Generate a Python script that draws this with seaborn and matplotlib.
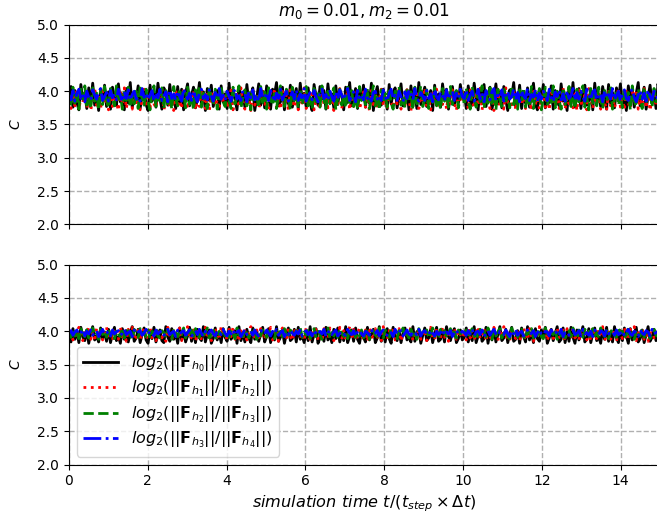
import numpy as np
import pandas as pd
import matplotlib
matplotlib.use("Agg")
import matplotlib.pyplot as plt
import seaborn as sns

# Convergence-rate estimates C for two parameter settings (upper and lower panel)
upper_h0h1 = [3.92, 4.07, 3.76, 4.01, 3.83, 3.72, 4.10, 3.88, 3.97, 3.74, 4.05, 3.81, 4.12, 3.79, 3.94, 3.71, 4.03, 3.86, 4.09, 3.77,
              3.99, 3.73, 4.06, 3.90, 3.78, 4.11, 3.84, 3.95, 3.72, 4.04, 3.82, 4.13, 3.75, 3.98, 3.87, 4.08, 3.74, 3.93, 4.02, 3.80,
              3.71, 4.09, 3.85, 4.00, 3.76, 4.12, 3.89, 3.73, 4.05, 3.96, 3.79, 4.10, 3.83, 3.91, 3.74, 4.07, 3.81, 4.03, 3.72, 3.97,
              4.11, 3.78, 3.94, 4.06, 3.75, 3.88, 4.13, 3.82, 3.99, 3.71, 4.04, 3.86, 4.09, 3.77, 3.92, 4.01, 3.73, 4.08, 3.84, 3.96,
              3.74, 4.12, 3.80, 4.02, 3.89, 3.72, 4.07, 3.85, 3.98, 3.76, 4.10, 3.83, 3.93, 4.05, 3.71, 3.90, 4.11, 3.79, 4.00, 3.75,
              4.08, 3.87, 3.73, 4.03, 3.95, 4.13, 3.78, 3.84, 4.06, 3.72, 3.99, 3.81, 4.09, 3.76, 3.91, 4.04, 3.74, 4.12, 3.86, 3.97,
              3.77, 4.05, 3.82, 3.71, 4.10, 3.92, 3.79, 4.07, 3.88, 4.01, 3.73, 4.11, 3.85, 3.96, 3.75, 4.08, 3.80, 4.02, 3.94, 3.72,
              4.06, 3.83, 4.13, 3.78, 3.90, 4.04, 3.74, 3.98, 3.87, 4.09, 3.76, 4.00, 3.82, 4.12, 3.71, 3.95, 4.07, 3.84, 3.79, 4.03,
              3.89, 3.73, 4.10, 3.81, 3.97, 4.05, 3.75, 3.92, 4.11, 3.78, 3.86, 4.02, 3.72, 4.08, 3.85, 3.99, 3.74, 4.13, 3.80, 3.94,
              4.06, 3.77, 3.88, 4.01, 3.71, 4.09, 3.83, 3.96, 3.76, 4.11, 3.87, 4.03, 3.73, 3.93, 4.07, 3.79, 4.00, 3.82, 4.10, 3.91,
              3.98, 3.74, 4.08, 3.85, 3.79, 4.12, 3.90, 3.72, 4.04, 3.83, 4.10, 3.77, 3.95, 4.06, 3.73, 3.88, 4.11, 3.81, 3.99, 3.75,
              4.07, 3.86, 3.71, 4.02, 3.92, 4.13, 3.78, 3.84, 4.09, 3.74, 3.97, 3.82, 4.05, 3.76, 3.93, 4.12, 3.80, 3.72, 4.03, 3.89,
              4.10, 3.75, 3.96, 3.83, 4.08, 3.73, 4.01, 3.87, 3.78, 4.11, 3.85, 3.94, 3.71, 4.06, 3.81, 4.13, 3.76, 3.91, 4.04, 3.74,
              3.99, 4.09, 3.79, 3.86, 4.02, 3.72, 4.12, 3.84, 3.95, 3.77, 4.07, 3.90, 3.73, 4.10, 3.82, 3.98, 3.75, 4.05, 3.88, 4.11,
              3.80, 3.93, 3.71, 4.08, 3.86, 4.03, 3.76, 3.97, 4.13, 3.78, 3.89, 4.06, 3.73, 3.92, 4.09, 3.81, 4.00, 3.74, 4.11, 3.87]
upper_h1h2 = [3.86, 3.74, 3.99, 3.78, 4.03, 3.72, 3.91, 3.83, 4.01, 3.75, 3.94, 3.71, 3.88, 4.04, 3.79, 3.96, 3.73, 4.00, 3.82, 3.89,
              3.72, 4.02, 3.77, 3.93, 3.84, 3.71, 3.98, 3.80, 4.05, 3.74, 3.90, 3.85, 3.73, 4.01, 3.78, 3.95, 3.72, 3.87, 4.03, 3.76,
              3.92, 3.73, 4.00, 3.81, 3.75, 3.97, 3.88, 4.04, 3.72, 3.84, 3.99, 3.76, 3.93, 3.71, 4.02, 3.79, 3.86, 3.74, 4.05, 3.83,
              3.73, 3.95, 3.80, 4.01, 3.72, 3.89, 3.77, 4.03, 3.85, 3.74, 3.98, 3.71, 3.92, 4.00, 3.78, 3.87, 3.73, 4.04, 3.82, 3.96,
              3.75, 3.90, 4.02, 3.72, 3.84, 3.99, 3.76, 4.05, 3.81, 3.73, 3.94, 3.88, 3.71, 4.01, 3.79, 3.97, 3.74, 3.86, 4.03, 3.77,
              3.91, 3.72, 3.98, 3.83, 4.04, 3.75, 3.87, 3.73, 4.00, 3.80, 3.95, 3.71, 4.02, 3.85, 3.76, 3.93, 3.72, 3.99, 3.82, 4.05,
              3.74, 3.89, 3.78, 4.01, 3.72, 3.96, 3.84, 3.73, 4.03, 3.79, 3.92, 3.75, 4.00, 3.86, 3.71, 3.97, 3.81, 4.04, 3.74, 3.90,
              3.83, 4.02, 3.72, 3.94, 3.77, 3.88, 4.05, 3.73, 3.85, 3.99, 3.76, 3.91, 3.71, 4.01, 3.80, 3.96, 3.74, 3.87, 4.03, 3.78,
              3.93, 3.72, 4.00, 3.84, 3.75, 3.98, 3.81, 4.04, 3.73, 3.89, 3.77, 4.02, 3.86, 3.71, 3.95, 3.79, 4.01, 3.74, 3.92, 3.82,
              4.05, 3.76, 3.88, 3.72, 3.97, 3.85, 4.03, 3.74, 3.90, 3.80, 4.00, 3.73, 3.94, 3.78, 4.02, 3.83, 3.71, 3.96, 3.87, 3.99,
              3.81, 3.97, 3.73, 4.02, 3.86, 3.75, 3.99, 3.78, 4.04, 3.72, 3.90, 3.84, 4.01, 3.74, 3.94, 3.71, 3.88, 4.03, 3.77, 3.96,
              3.73, 4.05, 3.83, 3.92, 3.75, 4.00, 3.72, 3.87, 3.98, 3.79, 4.02, 3.74, 3.91, 3.85, 3.71, 4.04, 3.80, 3.95, 3.73, 3.89,
              4.01, 3.76, 3.93, 3.72, 4.03, 3.84, 3.78, 3.99, 3.74, 3.86, 4.05, 3.73, 3.90, 3.81, 4.00, 3.75, 3.96, 3.71, 4.02, 3.83,
              3.77, 3.94, 3.72, 4.04, 3.88, 3.74, 3.98, 3.80, 4.01, 3.73, 3.92, 3.85, 3.71, 4.03, 3.78, 3.97, 3.75, 3.87, 4.05, 3.76,
              3.93, 3.72, 4.00, 3.82, 3.74, 3.99, 3.86, 4.02, 3.73, 3.89, 3.79, 4.04, 3.75, 3.95, 3.71, 3.91, 4.01, 3.77, 3.84, 3.98]
upper_h2h3 = [3.94, 3.77, 4.06, 3.82, 3.99, 3.73, 4.03, 3.88, 4.08, 3.79, 3.91, 3.74, 4.05, 3.85, 3.97, 3.72, 4.01, 3.80, 4.07, 3.87,
              3.75, 4.04, 3.90, 3.78, 4.08, 3.83, 3.96, 3.73, 4.02, 3.86, 4.06, 3.76, 3.93, 3.81, 4.00, 3.74, 4.07, 3.89, 3.79, 4.03,
              3.84, 3.72, 3.98, 4.08, 3.77, 3.92, 3.85, 4.05, 3.74, 4.01, 3.81, 3.95, 3.73, 4.07, 3.88, 3.78, 4.04, 3.83, 3.99, 3.75,
              4.06, 3.80, 3.93, 3.72, 4.02, 3.87, 4.08, 3.76, 3.97, 3.82, 3.74, 4.05, 3.90, 3.79, 4.03, 3.73, 3.96, 4.07, 3.84, 3.77,
              4.00, 3.86, 3.74, 4.06, 3.81, 3.94, 4.08, 3.75, 3.89, 4.02, 3.78, 3.98, 3.72, 4.04, 3.85, 3.92, 3.76, 4.07, 3.83, 3.99,
              3.73, 4.05, 3.88, 3.79, 4.01, 3.74, 3.95, 4.08, 3.82, 3.77, 4.03, 3.90, 3.72, 4.06, 3.86, 3.97, 3.75, 4.02, 3.80, 3.93,
              4.07, 3.78, 3.91, 3.73, 4.04, 3.84, 3.99, 3.76, 4.08, 3.87, 3.74, 4.00, 3.81, 3.96, 4.05, 3.72, 3.89, 4.03, 3.79, 3.94,
              3.75, 4.06, 3.83, 4.01, 3.77, 3.92, 3.73, 4.07, 3.86, 3.98, 3.80, 4.04, 3.74, 3.90, 4.08, 3.78, 3.95, 3.72, 4.02, 3.85,
              3.97, 3.76, 4.05, 3.82, 3.73, 4.00, 3.88, 4.07, 3.79, 3.93, 3.75, 4.03, 3.84, 3.99, 3.72, 4.06, 3.81, 3.91, 4.08, 3.77,
              3.87, 4.02, 3.74, 3.96, 3.83, 4.05, 3.78, 3.90, 3.73, 4.04, 3.85, 3.98, 3.76, 4.07, 3.80, 3.94, 4.01, 3.75, 3.92, 4.03,
              3.79, 4.04, 3.86, 3.73, 4.07, 3.91, 3.76, 4.01, 3.84, 4.08, 3.74, 3.95, 3.82, 4.05, 3.78, 3.99, 3.72, 4.03, 3.88, 3.77,
              4.06, 3.83, 3.94, 3.75, 4.08, 3.80, 3.97, 3.73, 4.02, 3.87, 4.05, 3.76, 3.92, 3.81, 4.07, 3.74, 3.98, 3.85, 4.04, 3.72,
              3.90, 4.06, 3.78, 3.96, 3.83, 4.08, 3.75, 4.00, 3.86, 3.73, 4.05, 3.80, 3.93, 4.07, 3.77, 3.89, 3.74, 4.03, 3.84, 3.99,
              4.08, 3.76, 3.91, 3.72, 4.04, 3.82, 3.97, 3.78, 4.06, 3.87, 3.74, 4.01, 3.85, 3.95, 4.07, 3.73, 3.88, 4.02, 3.79, 3.94,
              3.75, 4.05, 3.83, 3.98, 3.72, 4.08, 3.86, 3.77, 4.03, 3.90, 3.74, 4.06, 3.81, 3.96, 4.00, 3.76, 4.04, 3.84, 3.92, 3.78]
upper_h3h4 = [3.93, 3.87, 4.01, 3.85, 3.97, 4.03, 3.89, 3.95, 3.84, 4.00, 3.91, 3.86, 4.02, 3.94, 3.88, 3.99, 4.04, 3.86, 3.92, 3.98,
              3.85, 4.01, 3.90, 3.96, 3.87, 4.03, 3.93, 3.84, 3.99, 3.89, 4.02, 3.86, 3.95, 4.00, 3.88, 3.92, 3.85, 4.04, 3.91, 3.97,
              3.87, 3.94, 4.01, 3.85, 3.98, 3.90, 4.03, 3.86, 3.93, 3.99, 3.84, 4.02, 3.89, 3.96, 3.87, 4.00, 3.92, 3.85, 4.04, 3.94,
              3.88, 3.97, 3.86, 4.01, 3.91, 3.84, 3.99, 4.03, 3.89, 3.95, 3.87, 4.02, 3.93, 3.85, 3.98, 3.90, 4.04, 3.88, 3.94, 3.86,
              4.00, 3.92, 3.85, 3.97, 4.03, 3.88, 3.93, 3.86, 4.01, 3.96, 3.84, 3.99, 3.90, 4.02, 3.87, 3.95, 3.85, 4.04, 3.91, 3.89,
              3.98, 3.86, 4.01, 3.93, 3.84, 3.97, 3.89, 4.03, 3.87, 3.94, 4.00, 3.85, 3.92, 3.99, 3.88, 4.02, 3.86, 3.96, 3.90, 4.04,
              3.85, 3.93, 3.98, 3.87, 4.01, 3.91, 3.84, 3.97, 4.03, 3.89, 3.95, 3.86, 4.00, 3.92, 3.85, 3.99, 3.88, 4.02, 3.94, 3.87,
              3.96, 4.04, 3.86, 3.92, 3.99, 3.84, 4.01, 3.90, 3.95, 3.87, 4.03, 3.89, 3.93, 3.85, 3.98, 4.00, 3.88, 3.94, 3.86, 4.02,
              3.91, 3.85, 3.97, 4.03, 3.88, 3.94, 3.86, 4.00, 3.92, 3.84, 3.99, 3.89, 4.02, 3.95, 3.87, 4.04, 3.90, 3.85, 3.98, 3.93,
              3.86, 4.01, 3.89, 3.96, 3.84, 4.03, 3.91, 3.87, 3.99, 3.93, 3.85, 4.02, 3.88, 3.95, 4.00, 3.86, 3.97, 3.90, 4.03, 3.92,
              3.89, 4.02, 3.86, 3.95, 4.00, 3.85, 3.93, 4.03, 3.88, 3.97, 3.84, 4.01, 3.91, 3.87, 3.99, 4.04, 3.86, 3.94, 3.90, 4.02,
              3.85, 3.96, 4.00, 3.88, 3.92, 4.03, 3.87, 3.98, 3.84, 4.01, 3.93, 3.89, 4.04, 3.86, 3.95, 3.91, 4.02, 3.85, 3.97, 3.88,
              4.00, 3.94, 3.86, 4.03, 3.90, 3.84, 3.99, 3.92, 4.02, 3.87, 3.96, 3.85, 4.01, 3.89, 3.93, 4.04, 3.86, 3.98, 3.88, 4.00,
              3.91, 3.85, 4.03, 3.94, 3.87, 3.99, 4.02, 3.86, 3.92, 3.97, 3.84, 4.01, 3.90, 3.95, 3.88, 4.04, 3.87, 3.93, 4.00, 3.85,
              3.96, 4.02, 3.89, 3.86, 3.98, 4.03, 3.91, 3.84, 3.94, 4.01, 3.88, 3.97, 3.85, 4.02, 3.92, 3.87, 4.00, 3.95, 3.86, 3.99]

lower_h0h1 = [3.95, 3.84, 4.04, 3.88, 4.00, 3.83, 4.06, 3.91, 3.86, 4.02, 3.82, 3.97, 4.07, 3.87, 3.93, 3.84, 4.05, 3.89, 3.99, 3.85,
              4.03, 3.83, 3.96, 4.06, 3.86, 3.92, 3.82, 4.04, 3.88, 4.01, 3.84, 3.98, 4.07, 3.85, 3.90, 4.03, 3.83, 3.95, 4.05, 3.87,
              3.82, 4.00, 3.89, 4.06, 3.84, 3.94, 4.02, 3.86, 3.83, 4.07, 3.91, 3.85, 4.04, 3.88, 3.97, 3.82, 4.05, 3.87, 4.01, 3.84,
              3.93, 4.06, 3.85, 3.99, 3.83, 4.03, 3.90, 3.86, 4.07, 3.84, 3.96, 4.02, 3.82, 3.89, 4.05, 3.87, 3.98, 3.83, 4.04, 3.91,
              3.85, 4.06, 3.88, 3.94, 4.01, 3.82, 4.07, 3.86, 3.97, 3.84, 4.03, 3.90, 3.83, 4.05, 3.88, 4.00, 3.85, 3.95, 4.06, 3.84,
              3.92, 4.04, 3.83, 3.98, 3.87, 4.07, 3.85, 3.91, 4.02, 3.82, 3.96, 4.05, 3.86, 3.89, 4.03, 3.84, 4.06, 3.88, 3.93, 3.83,
              4.01, 3.86, 4.07, 3.84, 3.95, 4.04, 3.82, 3.90, 3.99, 3.85, 4.06, 3.87, 3.94, 3.83, 4.03, 3.89, 4.05, 3.84, 3.97, 3.86,
              4.07, 3.83, 3.92, 4.02, 3.85, 4.05, 3.88, 3.82, 4.00, 3.91, 3.84, 4.06, 3.87, 3.96, 4.03, 3.83, 3.90, 4.07, 3.85, 3.98,
              3.84, 4.04, 3.89, 3.82, 4.06, 3.93, 3.86, 4.01, 3.83, 3.97, 4.05, 3.87, 3.91, 3.84, 4.07, 3.85, 3.99, 4.02, 3.82, 3.94,
              4.05, 3.86, 3.90, 4.03, 3.83, 3.96, 4.06, 3.85, 3.88, 4.01, 3.84, 4.07, 3.92, 3.86, 3.98, 4.04, 3.83, 3.89, 4.02, 3.87,
              3.91, 4.05, 3.84, 3.97, 3.86, 4.07, 3.83, 3.93, 4.02, 3.85, 3.89, 4.06, 3.82, 3.99, 3.87, 4.04, 3.84, 3.95, 4.07, 3.86,
              3.90, 4.03, 3.83, 3.96, 4.06, 3.85, 3.88, 4.01, 3.82, 4.05, 3.92, 3.84, 4.07, 3.87, 3.98, 3.83, 4.04, 3.89, 3.85, 4.02,
              3.94, 4.06, 3.82, 3.90, 4.03, 3.86, 3.97, 4.07, 3.84, 3.88, 4.05, 3.83, 3.99, 3.85, 4.06, 3.91, 3.82, 4.02, 3.87, 3.95,
              4.07, 3.84, 3.89, 4.04, 3.83, 3.96, 4.05, 3.86, 3.92, 3.82, 4.03, 3.88, 4.06, 3.85, 3.98, 3.84, 4.07, 3.90, 3.83, 4.01,
              3.86, 4.05, 3.93, 3.82, 4.04, 3.87, 3.97, 4.06, 3.84, 3.89, 4.02, 3.83, 3.95, 4.07, 3.85, 3.91, 4.03, 3.86, 3.99, 3.84]
lower_h1h2 = [3.97, 4.04, 3.87, 4.01, 3.89, 4.06, 3.92, 3.86, 4.03, 3.95, 4.07, 3.88, 3.99, 3.85, 4.05, 3.91, 4.02, 3.87, 3.96, 4.06,
              3.89, 4.00, 3.86, 4.04, 3.93, 3.88, 4.07, 3.90, 3.98, 3.85, 4.03, 3.94, 4.06, 3.87, 3.91, 4.02, 3.86, 3.97, 4.05, 3.89,
              3.95, 4.07, 3.88, 4.01, 3.86, 3.93, 4.04, 3.90, 3.99, 3.85, 4.06, 3.92, 3.87, 4.03, 3.96, 3.89, 4.05, 3.86, 4.00, 3.94,
              4.07, 3.88, 3.91, 4.02, 3.85, 3.98, 4.05, 3.87, 3.94, 4.06, 3.89, 4.01, 3.86, 3.96, 4.04, 3.90, 3.87, 4.07, 3.93, 3.99,
              3.86, 4.03, 3.92, 4.06, 3.88, 3.95, 3.85, 4.05, 3.90, 4.01, 3.87, 3.97, 4.07, 3.89, 3.94, 4.02, 3.86, 4.04, 3.91, 3.88,
              4.00, 3.96, 4.06, 3.87, 3.93, 4.03, 3.85, 3.99, 4.05, 3.90, 3.88, 4.07, 3.92, 3.86, 4.01, 3.95, 4.04, 3.89, 3.97, 3.86,
              4.06, 3.91, 3.88, 4.02, 3.94, 4.07, 3.87, 3.98, 3.85, 4.04, 3.92, 3.89, 4.05, 3.96, 3.86, 4.00, 3.93, 4.06, 3.88, 4.01,
              3.87, 3.95, 4.07, 3.90, 4.03, 3.86, 3.97, 4.05, 3.89, 3.92, 4.02, 3.85, 4.06, 3.94, 3.88, 4.04, 3.91, 3.99, 3.86, 4.07,
              3.93, 3.88, 4.01, 3.96, 4.06, 3.87, 3.90, 4.04, 3.85, 3.98, 4.03, 3.89, 3.95, 4.07, 3.86, 4.00, 3.92, 4.05, 3.88, 3.97,
              4.02, 3.86, 3.94, 4.06, 3.90, 3.87, 4.04, 3.96, 3.89, 4.07, 3.91, 3.99, 3.85, 4.03, 3.93, 4.05, 3.88, 4.01, 3.95, 3.90,
              3.96, 3.87, 4.05, 3.90, 4.02, 3.86, 3.98, 4.07, 3.89, 3.93, 4.04, 3.85, 4.01, 3.92, 3.88, 4.06, 3.95, 3.86, 4.03, 3.91,
              4.07, 3.88, 3.97, 3.85, 4.05, 3.94, 3.89, 4.02, 3.86, 3.99, 4.06, 3.90, 3.87, 4.04, 3.93, 3.85, 4.01, 3.96, 4.07, 3.88,
              3.92, 4.03, 3.86, 3.98, 4.05, 3.89, 3.94, 4.06, 3.87, 3.91, 4.02, 3.85, 4.04, 3.95, 3.88, 4.07, 3.90, 3.97, 3.86, 4.03,
              3.93, 4.05, 3.87, 3.99, 3.85, 4.06, 3.91, 3.89, 4.02, 3.96, 4.07, 3.86, 3.94, 4.04, 3.88, 3.92, 4.01, 3.85, 4.05, 3.97,
              3.89, 4.06, 3.90, 3.87, 4.03, 3.95, 4.07, 3.86, 3.98, 3.92, 4.04, 3.88, 4.01, 3.85, 3.96, 4.05, 3.90, 3.93, 4.02, 3.87]
lower_h2h3 = [3.98, 3.91, 4.03, 3.93, 4.01, 3.89, 4.04, 3.96, 3.92, 4.02, 3.90, 3.99, 4.05, 3.94, 3.97, 3.88, 4.03, 3.95, 4.00, 3.91,
              4.04, 3.93, 3.98, 3.89, 4.02, 3.96, 3.92, 4.05, 3.90, 3.99, 4.01, 3.94, 3.88, 4.03, 3.97, 3.91, 4.04, 3.95, 3.99, 3.92,
              4.02, 3.89, 4.00, 3.96, 4.05, 3.93, 3.90, 4.01, 3.98, 3.91, 4.03, 3.94, 3.88, 4.04, 3.97, 3.92, 4.00, 3.95, 4.05, 3.90,
              3.99, 3.93, 4.02, 3.89, 4.04, 3.96, 3.91, 4.01, 3.94, 3.98, 4.05, 3.90, 3.97, 4.03, 3.92, 3.88, 4.00, 3.95, 4.04, 3.93,
              3.99, 3.91, 4.02, 3.96, 3.89, 4.05, 3.94, 4.00, 3.92, 4.03, 3.97, 3.90, 4.01, 3.95, 4.04, 3.88, 3.98, 3.93, 4.02, 3.96,
              3.91, 4.05, 3.94, 3.99, 3.89, 4.03, 3.97, 4.00, 3.92, 4.04, 3.95, 3.90, 4.02, 3.98, 3.93, 4.01, 3.96, 4.05, 3.91, 3.99,
              3.94, 4.03, 3.89, 3.97, 4.04, 3.92, 4.00, 3.95, 3.88, 4.02, 3.96, 4.05, 3.90, 3.98, 3.93, 4.01, 3.91, 4.04, 3.97, 3.92,
              4.00, 3.89, 4.03, 3.95, 4.05, 3.91, 3.98, 3.93, 4.02, 3.90, 3.96, 4.04, 3.88, 3.99, 4.01, 3.94, 3.92, 4.05, 3.97, 3.90,
              4.02, 3.95, 3.91, 4.04, 3.93, 3.99, 3.89, 4.01, 3.96, 4.05, 3.92, 3.98, 3.90, 4.03, 3.94, 4.00, 3.88, 4.04, 3.97, 3.93,
              3.99, 4.02, 3.90, 3.96, 4.05, 3.92, 3.98, 3.89, 4.03, 3.95, 4.01, 3.91, 3.97, 4.04, 3.93, 3.99, 3.90, 4.02, 3.96, 4.00,
              3.95, 4.02, 3.90, 3.98, 4.04, 3.92, 3.97, 3.89, 4.03, 3.94, 4.00, 3.91, 4.05, 3.96, 3.88, 4.01, 3.93, 3.99, 4.04, 3.90,
              3.97, 4.02, 3.92, 3.89, 4.05, 3.95, 4.00, 3.91, 3.98, 4.03, 3.93, 3.88, 4.01, 3.96, 4.04, 3.90, 3.99, 3.94, 4.02, 3.92,
              3.89, 4.05, 3.97, 3.91, 4.00, 3.95, 4.03, 3.88, 3.98, 3.93, 4.04, 3.90, 3.96, 4.01, 3.92, 4.05, 3.94, 3.89, 4.02, 3.97,
              3.91, 4.03, 3.95, 4.00, 3.88, 4.04, 3.93, 3.98, 3.90, 4.05, 3.96, 3.92, 4.01, 3.89, 3.99, 4.03, 3.94, 3.91, 4.04, 3.97,
              4.00, 3.90, 3.95, 4.05, 3.92, 3.98, 3.88, 4.02, 3.96, 3.93, 4.04, 3.91, 3.99, 4.01, 3.89, 3.97, 4.03, 3.94, 3.90, 4.00]
lower_h3h4 = [3.97, 4.01, 3.94, 3.99, 4.02, 3.95, 3.98, 4.03, 3.93, 4.00, 3.96, 4.02, 3.94, 3.99, 4.01, 3.92, 3.98, 4.03, 3.95, 3.97,
              4.00, 3.93, 4.02, 3.96, 3.99, 4.01, 3.94, 3.97, 4.03, 3.95, 3.98, 4.00, 3.92, 4.02, 3.96, 3.99, 4.01, 3.94, 3.97, 4.03,
              3.95, 4.00, 3.98, 3.93, 4.02, 3.96, 3.99, 4.01, 3.94, 3.97, 4.03, 3.95, 3.98, 4.00, 3.92, 4.02, 3.96, 3.99, 4.01, 3.94,
              3.98, 4.02, 3.93, 3.96, 4.01, 3.95, 4.03, 3.97, 3.92, 4.00, 3.94, 3.99, 4.02, 3.96, 3.93, 4.01, 3.98, 3.95, 4.03, 3.97,
              3.93, 4.00, 3.96, 4.02, 3.94, 3.99, 4.01, 3.92, 3.97, 4.03, 3.95, 3.98, 4.00, 3.94, 4.02, 3.96, 3.93, 4.01, 3.99, 3.95,
              4.02, 3.97, 3.93, 4.00, 3.96, 4.03, 3.94, 3.98, 4.01, 3.92, 3.99, 3.95, 4.02, 3.97, 3.94, 4.00, 3.96, 4.03, 3.93, 3.98,
              4.01, 3.95, 3.99, 3.93, 4.02, 3.97, 3.94, 4.00, 3.96, 4.03, 3.92, 3.98, 4.01, 3.95, 3.99, 4.02, 3.93, 3.97, 4.00, 3.96,
              3.94, 4.03, 3.97, 3.95, 4.01, 3.92, 3.99, 4.02, 3.96, 3.93, 4.00, 3.98, 3.94, 4.03, 3.95, 3.97, 4.01, 3.93, 3.99, 4.02,
              3.96, 3.94, 4.00, 3.98, 3.92, 4.03, 3.95, 3.99, 4.01, 3.93, 3.97, 4.02, 3.96, 3.94, 4.00, 3.98, 3.95, 4.03, 3.93, 3.99,
              4.01, 3.96, 3.94, 4.02, 3.97, 3.93, 4.00, 3.95, 3.98, 4.03, 3.94, 3.99, 3.96, 4.01, 3.92, 3.98, 4.02, 3.95, 3.97, 4.00,
              3.98, 3.94, 4.01, 3.96, 4.03, 3.93, 3.99, 4.00, 3.95, 4.02, 3.92, 3.97, 4.01, 3.94, 3.99, 4.03, 3.96, 3.93, 4.00, 3.98,
              3.95, 4.02, 3.97, 3.92, 4.01, 3.96, 4.03, 3.94, 3.98, 4.00, 3.93, 3.99, 4.02, 3.95, 3.97, 4.01, 3.92, 3.98, 4.03, 3.96,
              3.94, 4.00, 3.99, 3.93, 4.02, 3.97, 3.95, 4.01, 3.96, 4.03, 3.92, 3.98, 4.00, 3.94, 3.99, 4.02, 3.95, 3.97, 4.01, 3.93,
              4.03, 3.96, 3.98, 3.94, 4.00, 3.92, 4.02, 3.97, 3.95, 4.01, 3.99, 3.93, 4.03, 3.96, 3.98, 4.00, 3.94, 4.02, 3.95, 3.97,
              4.01, 3.93, 3.99, 4.03, 3.96, 3.94, 4.00, 3.98, 3.92, 4.02, 3.97, 3.95, 4.01, 3.99, 3.93, 4.03, 3.96, 3.98, 4.00, 3.94]

series_labels = [r'$log_2(||\mathbf{F}_{h_0}||/||\mathbf{F}_{h_1}||)$',
                 r'$log_2(||\mathbf{F}_{h_1}||/||\mathbf{F}_{h_2}||)$',
                 r'$log_2(||\mathbf{F}_{h_2}||/||\mathbf{F}_{h_3}||)$',
                 r'$log_2(||\mathbf{F}_{h_3}||/||\mathbf{F}_{h_4}||)$']
colors = ['black', 'red', 'green', 'blue']
styles = ['-', ':', '--', '-.']

t_end = 15.0
n = len(upper_h0h1)
t = np.linspace(0.0, t_end, n)

fig = plt.figure(figsize=(6.57, 5.22), dpi=100)
ax_top = fig.add_axes([0.105, 0.570, 0.8995, 0.383])
ax_bot = fig.add_axes([0.105, 0.110, 0.8995, 0.383], sharex=ax_top)

panels = [(ax_top, [upper_h0h1, upper_h1h2, upper_h2h3, upper_h3h4]),
          (ax_bot, [lower_h0h1, lower_h1h2, lower_h2h3, lower_h3h4])]

for ax, data in panels:
    for vals, lab, c, ls in zip(data, series_labels, colors, styles):
        df = pd.DataFrame({'t': t, 'C': vals})
        sns.lineplot(data=df, x='t', y='C', ax=ax, color=c, linestyle=ls,
                     linewidth=2, label=lab, legend=False)
    ax.set_ylim(2.0, 5.0)
    ax.set_yticks([2.0, 2.5, 3.0, 3.5, 4.0, 4.5, 5.0])
    ax.set_xlim(0, t_end)
    ax.set_xticks([0, 2, 4, 6, 8, 10, 12, 14])
    ax.grid(True, linestyle='--', color='#b0b0b0', linewidth=1.0)
    ax.set_axisbelow(True)
    ax.set_ylabel(r'$C$', fontsize=10, labelpad=10)
    ax.tick_params(labelsize=10)

ax_top.tick_params(labelbottom=False)
ax_top.set_xlabel('')
ax_top.set_title(r'$m_0 = 0.01, m_2 = 0.01$', fontsize=12)

ax_bot.set_xlabel(r'$simulation\ time\ t/(t_{step}\times\Delta t)$', fontsize=11.6)
ax_bot.legend(loc='lower left', fontsize=11.5, handlelength=2.2, labelspacing=0.3)

fig.savefig('out.png', dpi=100)
